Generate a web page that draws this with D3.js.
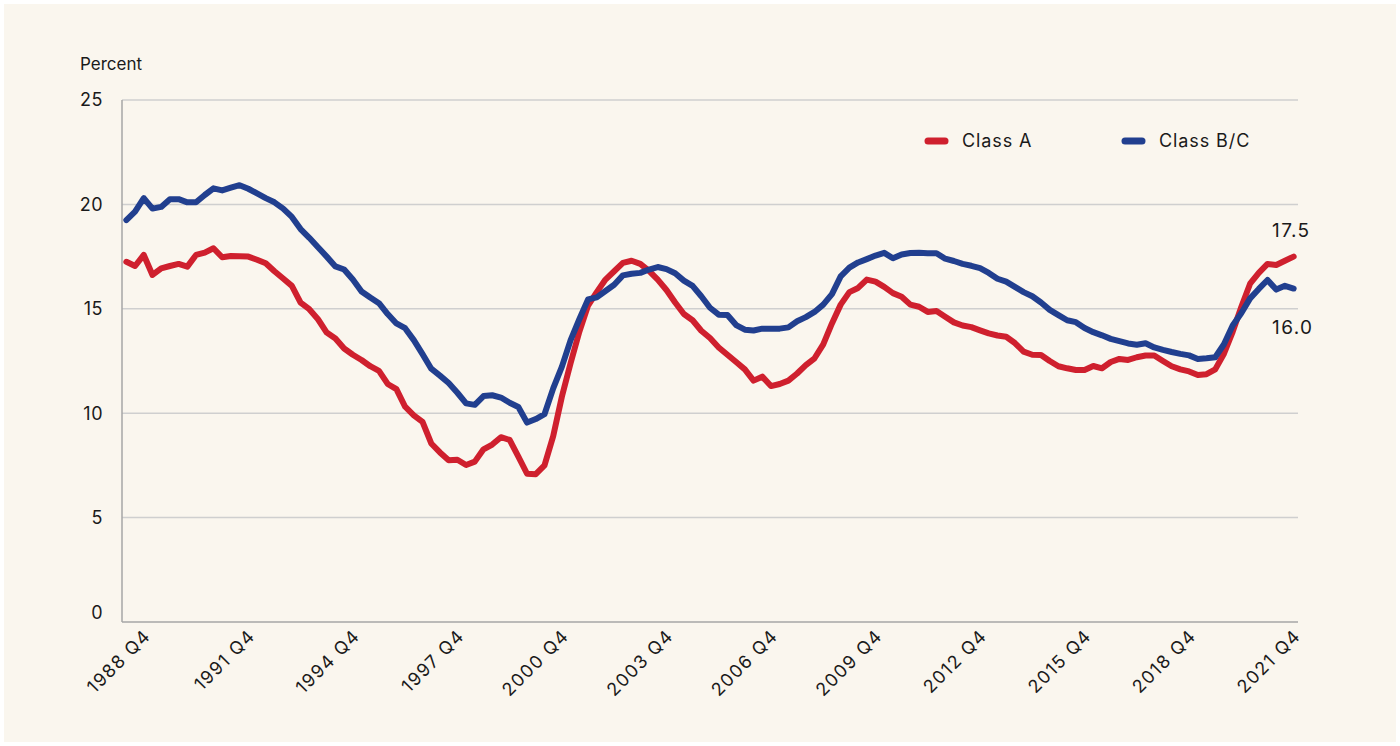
<!DOCTYPE html>
<html>
<head>
<meta charset="utf-8">
<script src="https://cdn.jsdelivr.net/npm/d3@7"></script>
<style>
  html, body { margin: 0; padding: 0; background: #ffffff; }
  svg { display: block; }
  text { font-family: Inter, "Open Sans", sans-serif; fill: #1a1a1a; }
</style>
</head>
<body>
<svg id="chart" width="1400" height="746"></svg>
<script>
// ---- data ----
const firstYear = 1988, firstQuarter = 2, lastYear = 2021, lastQuarter = 4;
const tickLabels = ["1988 Q4","1991 Q4","1994 Q4","1997 Q4","2000 Q4","2003 Q4","2006 Q4","2009 Q4","2012 Q4","2015 Q4","2018 Q4","2021 Q4"];
const yTicks = [0, 5, 10, 15, 20, 25];
const seriesNames = ["Class A", "Class B/C"];
const classA = [
  17.25,17.05,17.58,16.62,16.94,17.05,17.15,17.02,17.58,17.69,
  17.9,17.47,17.53,17.52,17.5,17.35,17.18,16.8,16.45,16.1,
  15.3,14.98,14.5,13.86,13.58,13.1,12.8,12.55,12.25,12.03,
  11.4,11.15,10.31,9.9,9.58,8.55,8.12,7.75,7.77,7.52,
  7.68,8.27,8.5,8.85,8.72,7.92,7.1,7.08,7.5,8.9,
  10.8,12.4,13.9,15.15,15.8,16.4,16.8,17.2,17.3,17.15,
  16.82,16.4,15.9,15.3,14.75,14.45,13.95,13.6,13.15,12.8,
  12.45,12.1,11.56,11.75,11.3,11.4,11.56,11.9,12.3,12.63,
  13.3,14.3,15.2,15.8,16.0,16.4,16.3,16.05,15.75,15.58,
  15.2,15.1,14.85,14.89,14.62,14.35,14.2,14.12,13.97,13.82,
  13.72,13.66,13.36,12.95,12.8,12.79,12.5,12.25,12.15,12.07,
  12.07,12.26,12.15,12.45,12.6,12.55,12.68,12.76,12.76,12.5,
  12.25,12.1,12.0,11.83,11.87,12.1,12.85,13.9,15.1,16.2,
  16.72,17.15,17.1,17.3,17.5
];
const classBC = [
  19.25,19.65,20.3,19.8,19.88,20.25,20.25,20.1,20.1,20.45,
  20.77,20.67,20.8,20.92,20.75,20.53,20.3,20.1,19.8,19.4,
  18.82,18.4,17.95,17.5,17.03,16.88,16.4,15.83,15.54,15.27,
  14.75,14.3,14.07,13.5,12.83,12.13,11.8,11.45,10.98,10.47,
  10.4,10.82,10.86,10.75,10.5,10.3,9.55,9.72,9.95,11.19,
  12.23,13.5,14.5,15.45,15.55,15.85,16.15,16.6,16.68,16.72,
  16.88,17.0,16.9,16.7,16.35,16.1,15.6,15.05,14.72,14.7,
  14.22,14.0,13.96,14.05,14.04,14.05,14.11,14.4,14.6,14.85,
  15.2,15.7,16.55,16.97,17.22,17.38,17.55,17.68,17.42,17.6,
  17.67,17.68,17.66,17.66,17.4,17.29,17.15,17.06,16.95,16.72,
  16.44,16.3,16.05,15.8,15.6,15.3,14.95,14.7,14.45,14.36,
  14.08,13.88,13.73,13.56,13.45,13.34,13.28,13.35,13.15,13.03,
  12.93,12.84,12.77,12.6,12.63,12.68,13.3,14.2,14.8,15.5,
  15.95,16.38,15.92,16.1,15.97
];
const endLabels = ["17.5", "16.0"];
const colors = ["#cf202e", "#213f8f"];

// categories (quarters)
const categories = [];
for (let y = firstYear; y <= lastYear; y++) {
  for (let q = 1; q <= 4; q++) {
    if (y === firstYear && q < firstQuarter) continue;
    if (y === lastYear && q > lastQuarter) continue;
    categories.push(y + " Q" + q);
  }
}

// ---- layout ----
const W = 1400, H = 746;
const plot = { left: 122, right: 1298, top: 100, bottom: 622 };

const svg = d3.select("#chart");
svg.append("rect").attr("x", 4).attr("y", 4).attr("width", W - 8).attr("height", H - 8).attr("fill", "#faf6ee");

const x = d3.scaleBand().domain(categories).range([plot.left, plot.right]).paddingInner(0).paddingOuter(0);
const xc = c => x(c) + x.bandwidth() / 2;
const y = d3.scaleLinear().domain([0, 25]).range([plot.bottom, plot.top]);

// gridlines
svg.append("g").selectAll("line").data(yTicks.filter(d => d > 0)).join("line")
  .attr("x1", plot.left).attr("x2", plot.right)
  .attr("y1", d => y(d)).attr("y2", d => y(d))
  .attr("stroke", "#cfcfcf").attr("stroke-width", 1.5);

// axes lines
svg.append("line").attr("x1", plot.left).attr("x2", plot.left).attr("y1", plot.top).attr("y2", plot.bottom)
  .attr("stroke", "#a6a6a6").attr("stroke-width", 1.5);
svg.append("line").attr("x1", plot.left).attr("x2", plot.right).attr("y1", plot.bottom).attr("y2", plot.bottom)
  .attr("stroke", "#a6a6a6").attr("stroke-width", 1.5);

// y tick labels
svg.append("g").selectAll("text").data(yTicks).join("text")
  .attr("x", 103).attr("y", d => y(d) - (d === 0 ? 9 : 0)).attr("dy", "0.36em")
  .attr("text-anchor", "end").attr("font-size", 18).attr("letter-spacing", 0.5).text(d => d);

svg.append("text").attr("x", 80).attr("y", 70).attr("font-size", 17).text("Percent");

// x tick labels
svg.append("g").selectAll("text").data(tickLabels).join("text")
  .attr("text-anchor", "end").attr("font-size", 18).attr("letter-spacing", 1.4)
  .attr("transform", d => `translate(${xc(d) + 8},${637}) rotate(-45)`)
  .text(d => d);

// lines
const line = d3.line().x((d, i) => xc(categories[i])).y(d => y(d));
[classA, classBC].forEach((s, k) => {
  svg.append("path").datum(s).attr("d", line)
    .attr("fill", "none").attr("stroke", colors[k]).attr("stroke-width", 6)
    .attr("stroke-linejoin", "round").attr("stroke-linecap", "round");
});

// end labels
const last = categories.length - 1;
svg.append("text").attr("x", 1272).attr("y", y(classA[last]) - 26).attr("dy", "0.36em")
  .attr("font-size", 19).attr("letter-spacing", 1.4).text(endLabels[0]);
svg.append("text").attr("x", 1272).attr("y", y(classBC[last]) + 39).attr("dy", "0.36em")
  .attr("font-size", 19).attr("letter-spacing", 1.4).text(endLabels[1]);

// legend
const legX = [925, 1122];
const legend = svg.append("g").selectAll("g").data(seriesNames).join("g")
  .attr("transform", (d, i) => `translate(${legX[i]},141)`);
legend.append("line").attr("x1", 3).attr("x2", 20).attr("y1", 0).attr("y2", 0)
  .attr("stroke", (d, i) => colors[i]).attr("stroke-width", 7).attr("stroke-linecap", "round");
legend.append("text").attr("x", 37).attr("y", 0).attr("dy", "0.36em").attr("font-size", 18)
  .attr("letter-spacing", 0.9).text(d => d);
</script>
</body>
</html>
